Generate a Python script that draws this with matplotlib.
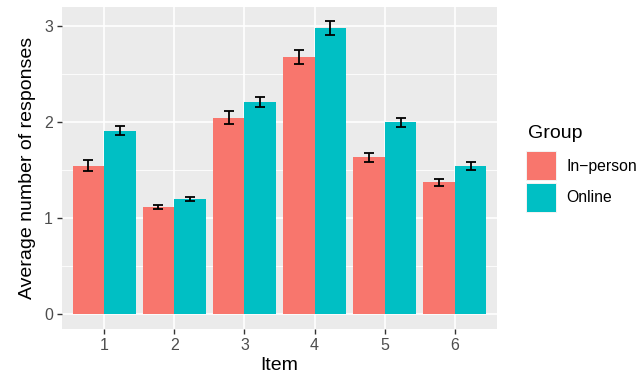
import matplotlib.pyplot as plt
import numpy as np

plt.rcParams['font.family'] = ['Liberation Sans', 'DejaVu Sans']

items = [1, 2, 3, 4, 5, 6]
groups = ['In\u2212person', 'Online']
colors = ['#F8766D', '#00BFC4']

inperson = [1.55, 1.115, 2.05, 2.68, 1.635, 1.375]
inperson_se = [0.055, 0.02, 0.068, 0.075, 0.048, 0.038]
online = [1.915, 1.20, 2.21, 2.98, 2.00, 1.543]
online_se = [0.05, 0.022, 0.05, 0.072, 0.05, 0.04]

fig = plt.figure(figsize=(6.39, 3.81), dpi=100)
ax = fig.add_axes([62/639, 1 - 329/381, 435/639, 322/381])
ax.set_facecolor('#EBEBEB')

x = np.array(items, dtype=float)
w = 0.45
for vals, se, col, off in [(inperson, inperson_se, colors[0], -w/2),
                           (online, online_se, colors[1], w/2)]:
    ax.bar(x + off, vals, width=w, color=col, zorder=3, label=None)
    ax.errorbar(x + off, vals, yerr=se, fmt='none', ecolor='black',
                elinewidth=1.3, capsize=3.5, capthick=1.3, zorder=4)

ax.set_xlim(0.4, 6.6)
ax.set_ylim(-0.153, 3.203)
ax.set_xticks(items)
ax.set_yticks([0, 1, 2, 3])
ax.set_yticks([0.5, 1.5, 2.5], minor=True)
ax.grid(True, which='major', color='white', linewidth=1.2, zorder=0)
ax.grid(True, which='minor', axis='y', color='white', linewidth=0.6, zorder=0)
ax.set_axisbelow(True)
ax.tick_params(which='major', length=3.5, width=1, color='#333333',
               labelsize=11.5, labelcolor='#4D4D4D', pad=3)
ax.tick_params(which='minor', length=0)
for s in ax.spines.values():
    s.set_visible(False)

ax.set_xlabel('Item', fontsize=14, labelpad=3)
ax.set_ylabel('Average number of responses', fontsize=14, labelpad=6)

# legend
fig.text(528/639, 1 - 133/381, 'Group', fontsize=14, va='center', ha='left')
for i, (g, c) in enumerate(zip(groups, colors)):
    y0 = 151 + i * 32
    fig.patches.append(plt.Rectangle((526/639, 1 - (y0 + 30)/381), 31/639, 30/381,
                                     transform=fig.transFigure, facecolor='#F2F2F2',
                                     edgecolor='none'))
    fig.patches.append(plt.Rectangle((527/639, 1 - (y0 + 29)/381), 29/639, 28/381,
                                     transform=fig.transFigure, facecolor=c,
                                     edgecolor='none'))
    fig.text(566/639, 1 - (y0 + 15)/381, g, fontsize=11.3, va='center', ha='left')

fig.savefig('out.png', dpi=100)
